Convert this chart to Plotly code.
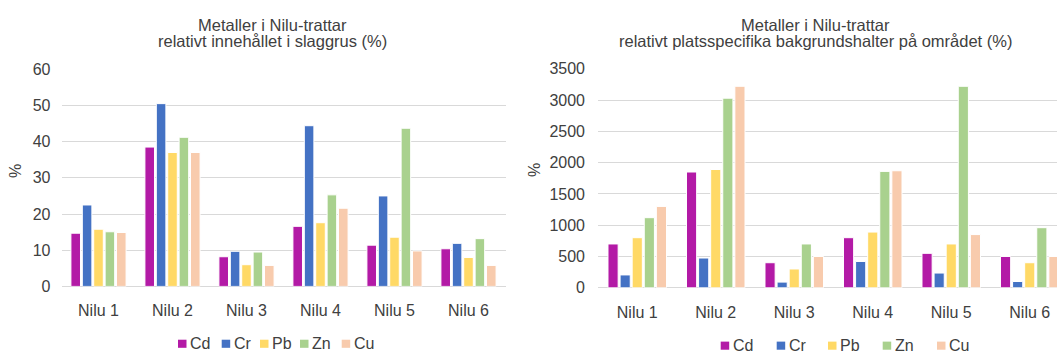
import plotly.graph_objects as go

# --- data -------------------------------------------------------------
categories = ["Nilu 1", "Nilu 2", "Nilu 3", "Nilu 4", "Nilu 5", "Nilu 6"]
metals = ["Cd", "Cr", "Pb", "Zn", "Cu"]

# relative content in slag gravel (%)
slag_cd = [14.7, 38.5, 8.2, 16.6, 11.4, 10.4]
slag_cr = [22.5, 50.5, 9.7, 44.4, 25.0, 11.9]
slag_pb = [15.8, 37.0, 6.0, 17.6, 13.6, 8.0]
slag_zn = [15.1, 41.2, 9.5, 25.3, 43.7, 13.2]
slag_cu = [14.9, 37.0, 5.8, 21.6, 9.8, 5.8]

# relative site-specific background levels (%)
bg_cd = [700, 1850, 400, 800, 550, 500]
bg_cr = [205, 475, 90, 420, 235, 100]
bg_pb = [800, 1890, 300, 890, 700, 400]
bg_zn = [1120, 3030, 700, 1860, 3220, 960]
bg_cu = [1300, 3220, 500, 1870, 850, 500]

slag_values = [slag_cd, slag_cr, slag_pb, slag_zn, slag_cu]
bg_values = [bg_cd, bg_cr, bg_pb, bg_zn, bg_cu]

colors = ["#B31AA6", "#4472C4", "#FFD966", "#A9D18E", "#F8CBAD"]

left_title = ["Metaller i Nilu-trattar", "relativt innehållet i slaggrus (%)"]
right_title = ["Metaller i Nilu-trattar",
               "relativt platsspecifika bakgrundshalter på området (%)"]

# --- layout constants (pixels) ----------------------------------------
W, H = 1057, 358
FONT = "Liberation Sans, Arial, sans-serif"
TXT = "#404040"
GRID = "#D9D9D9"
TICK_SIZE = 16
TITLE_SIZE = 16.5


def px_x(x):
    return x / W


def px_y(y):
    return 1 - y / H


fig = go.Figure()

for name, vals, col in zip(metals, slag_values, colors):
    fig.add_trace(go.Bar(x=categories, y=vals, name=name, xaxis="x", yaxis="y",
                         marker=dict(color=col, line=dict(color="white", width=1)),
                         showlegend=False))

for name, vals, col in zip(metals, bg_values, colors):
    fig.add_trace(go.Bar(x=categories, y=vals, name=name, xaxis="x2", yaxis="y2",
                         marker=dict(color=col, line=dict(color="white", width=1)),
                         showlegend=False))

axis_common = dict(tickfont=dict(family=FONT, size=TICK_SIZE, color=TXT), ticks="",
                   fixedrange=True)

fig.update_layout(
    width=W, height=H, autosize=False,
    margin=dict(l=0, r=0, t=0, b=0),
    paper_bgcolor="white", plot_bgcolor="white",
    barmode="group", bargap=0.23, bargroupgap=0.16,
    font=dict(family=FONT, color=TXT),
    xaxis=dict(domain=[px_x(61.5), px_x(505.5)], anchor="y",
               showgrid=False, zeroline=False, showline=False,
               ticklabelstandoff=13, **axis_common),
    yaxis=dict(domain=[px_y(292.3), px_y(64.3)], anchor="x",
               range=[0, 60], dtick=10, showgrid=True, gridcolor=GRID, gridwidth=1,
               zeroline=True, zerolinecolor=GRID, zerolinewidth=1, showline=False,
               ticklabelstandoff=10, **axis_common),
    xaxis2=dict(domain=[px_x(598), 1.0], anchor="y2",
                range=[-0.5, 5.5 - 12 / 78.5],
                showgrid=False, zeroline=False, showline=False,
                ticklabelstandoff=13, **axis_common),
    yaxis2=dict(domain=[px_y(293.7), px_y(63.8)], anchor="x2",
                range=[0, 3500], dtick=500, showgrid=True, gridcolor=GRID, gridwidth=1,
                zeroline=True, zerolinecolor=GRID, zerolinewidth=1, showline=False,
                ticklabelstandoff=12, **axis_common),
)

annotations = []
shapes = []

# chart titles, one annotation per line
for lines, cx in ((left_title, 272), (right_title, 815)):
    for text, cy in zip(lines, (18, 35)):
        annotations.append(dict(text=text, x=px_x(cx), y=px_y(cy), xref="paper",
                                yref="paper", xanchor="center", yanchor="middle",
                                showarrow=False,
                                font=dict(family=FONT, size=TITLE_SIZE, color=TXT)))

# rotated "%" axis titles
for cx, cy in ((16, 171), (535, 170)):
    annotations.append(dict(text="%", x=px_x(cx), y=px_y(cy), xref="paper",
                            yref="paper", xanchor="center", yanchor="middle",
                            textangle=-90, showarrow=False,
                            font=dict(family=FONT, size=TICK_SIZE, color=TXT)))

# legends under each chart
legend_rows = [
    ([178, 221.7, 260, 300, 341.7], 352.5),
    ([720.7, 776.7, 828, 882.7, 937], 354.5),
]
SQ = 8.5
for xs, cy in legend_rows:
    for x0, name, col in zip(xs, metals, colors):
        shapes.append(dict(type="rect", xref="paper", yref="paper",
                           x0=px_x(x0), x1=px_x(x0 + SQ),
                           y0=px_y(cy + SQ / 2), y1=px_y(cy - SQ / 2),
                           fillcolor=col, line=dict(width=0)))
        annotations.append(dict(text=name, x=px_x(x0 + SQ + 1.5), y=px_y(cy - 0.5),
                                xref="paper", yref="paper", xanchor="left",
                                yanchor="middle", showarrow=False,
                                font=dict(family=FONT, size=TICK_SIZE, color=TXT)))

fig.update_layout(annotations=annotations, shapes=shapes)

fig.write_html("out.html", config={"displayModeBar": False})
